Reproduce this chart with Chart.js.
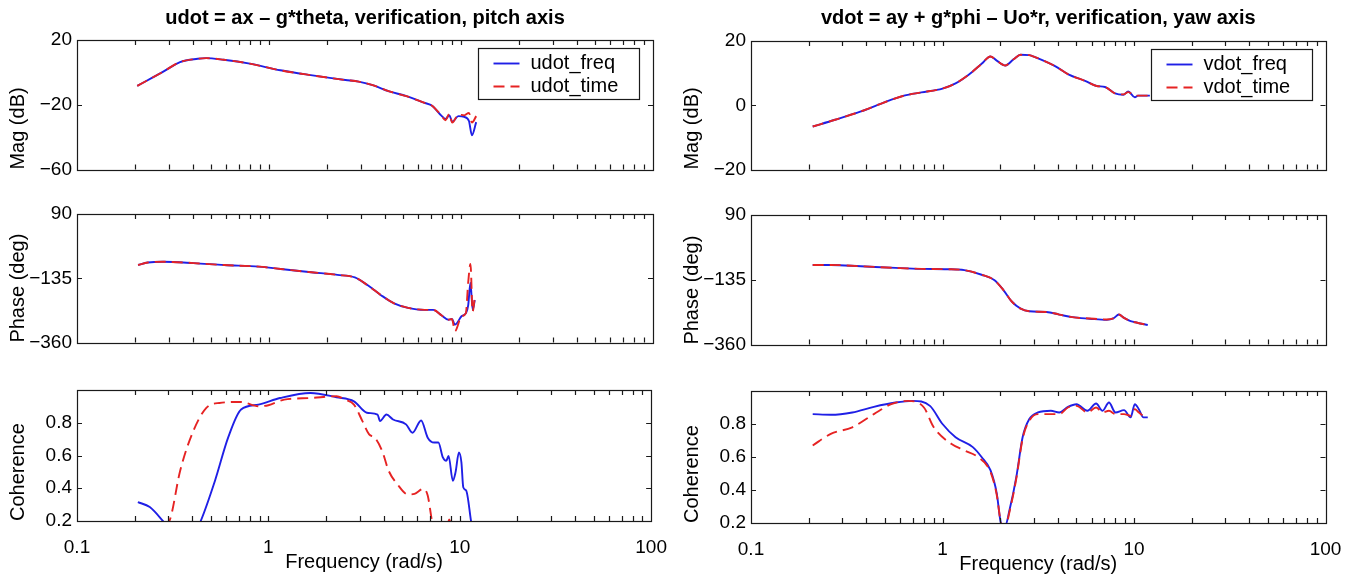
<!DOCTYPE html>
<html>
<head>
<meta charset="utf-8">
<title>udot / vdot verification</title>
<script src="https://cdn.jsdelivr.net/npm/chart.js@4.4.1/dist/chart.umd.min.js"></script>
<style>
  body { margin: 0; background: #fff; width: 1357px; height: 581px; overflow: hidden; position: relative; }
  canvas { position: absolute; }
</style>
</head>
<body>
<script>
// --- pitch axis (udot), magnitude ---
var freqMagU = [0.206, 0.28, 0.344, 0.425, 0.47, 0.58, 0.794, 1.146, 1.65, 2.5, 2.93, 3.43, 4.23, 5.2, 6.41, 7.1, 7.9, 8.3, 8.7, 9.0, 9.7, 10.4, 11.0, 11.4, 12.0];
var magUfreq = [-8.3, 0.3, 6.4, 8.4, 8.8, 7.8, 5.4, 1.3, -1.7, -4.7, -5.7, -7.7, -11.7, -14.7, -18.7, -20.7, -26.7, -28.7, -26.5, -30.5, -27, -27.5, -30, -38.8, -30.7];
var magUtime = [-8.3, 0.3, 6.4, 8.4, 8.8, 7.8, 5.4, 1.3, -1.7, -4.7, -5.7, -7.7, -11.7, -14.7, -18.7, -20.7, -26.7, -29.5, -25.5, -31, -26, -26.5, -25, -31, -27];

// --- yaw axis (vdot), magnitude ---
var freqMagV = [0.21, 0.275, 0.375, 0.486, 0.63, 0.776, 1.0, 1.17, 1.37, 1.6, 1.78, 1.92, 2.13, 2.36, 2.56, 2.84, 3.04, 3.87, 4.54, 5.55, 6.38, 7.06, 7.96, 8.8, 9.33, 10.1, 10.5, 12.1];
var magVfreq = [-6.6, -4.5, -1.9, 0.7, 3.0, 4.0, 5.2, 6.8, 9.5, 12.9, 15.2, 13.9, 12.4, 14.4, 15.7, 15.6, 15.0, 12.2, 9.6, 7.6, 6.0, 5.7, 3.7, 3.3, 4.3, 2.5, 3.0, 3.0];
var magVtime = [-6.6, -4.5, -1.9, 0.7, 3.0, 4.0, 5.2, 6.8, 9.5, 12.9, 15.2, 13.9, 12.4, 14.4, 15.7, 15.6, 15.0, 12.2, 9.6, 7.6, 6.0, 5.7, 3.7, 3.4, 4.1, 3.0, 3.0, 3.0];

// --- pitch axis, phase ---
var freqPhU = [0.208, 0.234, 0.281, 0.405, 0.584, 0.887, 1.15, 1.66, 2.27, 2.8, 3.27, 3.83, 4.48, 5.24, 6.45, 7.16, 7.94, 8.6, 8.97, 9.3, 10.06, 10.6, 10.9, 11.2, 11.5, 11.8];
var phUfreq = [-88.6, -79.5, -77.2, -81.8, -88.6, -94.3, -102.4, -113.8, -123, -132, -159.6, -194, -222.6, -237.5, -245.5, -245.5, -265, -279.8, -277.5, -297, -268, -257, -230, -150, -245, -211];
var phUtime = [-88.6, -79.5, -77.2, -81.8, -88.6, -94.3, -102.4, -113.8, -123, -132, -159.6, -194, -222.6, -237.5, -245.5, -245.5, -265, -279.8, -277.5, -320, -268, -257, -150, -85, -251, -200];

// --- yaw axis, phase ---
var freqPhV = [0.21, 0.261, 0.375, 0.568, 0.776, 1.06, 1.3, 1.6, 1.87, 2.08, 2.3, 2.56, 2.84, 3.49, 4.07, 4.76, 5.86, 7.21, 7.8, 8.34, 8.87, 9.6, 10.4, 11.8];
var phVfreq = [-83.4, -83.4, -88, -93.6, -97, -98.2, -101.6, -117.4, -136.7, -170.7, -210.4, -235.3, -244.4, -246.6, -255.7, -264.8, -270, -274, -269.3, -255.7, -267, -278.4, -284, -292];
var phVtime = [-83.4, -83.4, -88, -93.6, -97, -98.2, -101.6, -117.4, -136.7, -170.7, -210.4, -235.3, -244.4, -246.6, -255.7, -264.8, -269.3, -272.7, -269.3, -255.7, -267, -278.4, -284, -292];

// --- pitch axis, coherence ---
var freqCohUfreq = [0.208, 0.24, 0.281, 0.33, 0.4, 0.443, 0.526, 0.616, 0.72, 0.887, 1.15, 1.66, 2.27, 2.8, 3.27, 3.72, 3.83, 4.14, 4.48, 5.24, 5.66, 6.28, 6.8, 7.35, 7.73, 8.16, 8.5, 8.74, 9.2, 9.5, 9.9, 10.2, 10.43, 10.8, 11.45, 11.8];
var cohUfreq = [0.315, 0.285, 0.2, 0.1, 0.1, 0.2, 0.446, 0.709, 0.881, 0.911, 0.951, 0.982, 0.956, 0.931, 0.861, 0.85, 0.81, 0.85, 0.82, 0.79, 0.739, 0.814, 0.709, 0.679, 0.679, 0.588, 0.567, 0.598, 0.446, 0.497, 0.618, 0.558, 0.406, 0.386, 0.2, 0.1];
var freqCohUtime = [0.21, 0.304, 0.346, 0.405, 0.474, 0.555, 0.72, 0.887, 1.0, 1.21, 1.66, 2.27, 2.52, 2.8, 3.1, 3.36, 3.6, 3.93, 4.25, 4.71, 5.37, 5.8, 6.45, 6.8, 7.16, 7.5, 8.4, 8.8, 9.2];
var cohUtime = [0.05, 0.2, 0.507, 0.749, 0.891, 0.921, 0.927, 0.901, 0.907, 0.941, 0.951, 0.962, 0.941, 0.911, 0.81, 0.729, 0.709, 0.628, 0.507, 0.426, 0.362, 0.366, 0.396, 0.356, 0.2, 0.1, 0.1, 0.21, 0.1];

// --- yaw axis, coherence ---
var freqCohVfreq = [0.21, 0.261, 0.338, 0.438, 0.568, 0.699, 0.86, 1.0, 1.17, 1.44, 1.6, 1.78, 1.92, 2.02, 2.12, 2.24, 2.43, 2.62, 2.84, 3.15, 3.68, 4.07, 4.52, 5.01, 5.71, 6.34, 6.85, 7.4, 8.0, 8.87, 9.6, 10.1, 10.6, 11.2, 11.8];
var cohVfreq = [0.86, 0.856, 0.87, 0.904, 0.93, 0.94, 0.91, 0.8, 0.72, 0.66, 0.6, 0.52, 0.38, 0.2, 0.18, 0.28, 0.48, 0.72, 0.83, 0.87, 0.88, 0.87, 0.904, 0.92, 0.88, 0.924, 0.88, 0.93, 0.87, 0.884, 0.84, 0.92, 0.89, 0.84, 0.84];
var freqCohVtime = [0.21, 0.261, 0.338, 0.438, 0.54, 0.66, 0.8, 0.9, 1.11, 1.3, 1.53, 1.78, 1.92, 2.02, 2.12, 2.24, 2.43, 2.62, 2.84, 3.15, 3.68, 4.07, 4.52, 5.01, 5.71, 6.34, 6.85, 7.4, 8.0, 8.87, 9.6, 10.1, 10.6, 11.2, 11.8];
var cohVtime = [0.67, 0.74, 0.78, 0.86, 0.92, 0.94, 0.9, 0.78, 0.68, 0.64, 0.6, 0.51, 0.37, 0.2, 0.17, 0.27, 0.47, 0.71, 0.82, 0.86, 0.86, 0.86, 0.9, 0.91, 0.87, 0.9, 0.87, 0.88, 0.86, 0.86, 0.85, 0.89, 0.87, 0.85, 0.84];

// tick labels
var freqTicks = [0.1, 1, 10, 100];
var magUTicks = [-60, -20, 20];
var magVTicks = [-20, 0, 20];
var phaseTicks = [-360, -135, 90];
var cohTicks = [0.2, 0.4, 0.6, 0.8];

var BLUE = '#1f1fe6';
var RED = '#e62323';
var FONT = '"Liberation Sans", Arial, Helvetica, sans-serif';

Chart.defaults.font.family = FONT;
Chart.defaults.color = '#000';

// coppie x/y per il grafico
function punti(freq, valori) {
  var out = [];
  for (var i = 0; i < freq.length; i++) {
    out.push({x: freq[i], y: valori[i]});
  }
  return out;
}

function fmt(v) {
  return String(v).replace('-', '\u2212');
}

// box + inward ticks, matlab style
var boxTicks = {
  id: 'boxTicks',
  afterDraw: function(chart) {
    var ctx = chart.ctx, a = chart.chartArea;
    var xs = chart.scales.x, ys = chart.scales.y;
    var len = 5;
    ctx.save();
    ctx.strokeStyle = '#1a1a1a';
    ctx.lineWidth = 1.2;
    ctx.beginPath();
    for (var d = 0.1; d < 99; d *= 10) {
      for (var k = 1; k <= 9; k++) {
        var v = d * k;
        if (v <= 0.1 || v >= 100) continue;
        var px = Math.round(xs.getPixelForValue(v)) + 0.5;
        ctx.moveTo(px, a.top); ctx.lineTo(px, a.top + len);
        ctx.moveTo(px, a.bottom); ctx.lineTo(px, a.bottom - len);
      }
    }
    ys.ticks.forEach(function(t) {
      var py = Math.round(ys.getPixelForValue(t.value)) + 0.5;
      ctx.moveTo(a.left, py); ctx.lineTo(a.left + len, py);
      ctx.moveTo(a.right, py); ctx.lineTo(a.right - len, py);
    });
    ctx.stroke();
    ctx.strokeRect(Math.round(a.left) + 0.5, Math.round(a.top) + 0.5, Math.round(a.right - a.left), Math.round(a.bottom - a.top));
    ctx.restore();
  }
};

// legend box inside the axes (top right)
var insideLegend = {
  id: 'insideLegend',
  afterDraw: function(chart, args, opts) {
    if (!opts.show) return;
    var ctx = chart.ctx, a = chart.chartArea;
    var w = 161, h = 51;
    var x = Math.round(a.right - 14 - w) + 0.5, y = Math.round(a.top + 8) + 0.5;
    ctx.save();
    ctx.fillStyle = '#fff';
    ctx.fillRect(x, y, w, h);
    ctx.strokeStyle = '#1a1a1a';
    ctx.lineWidth = 1.2;
    ctx.strokeRect(x, y, w, h);
    ctx.font = '20px ' + FONT;
    ctx.textBaseline = 'middle';
    chart.data.datasets.forEach(function(ds, i) {
      var cy = y + 15 + i * 23;
      ctx.strokeStyle = ds.borderColor;
      ctx.lineWidth = ds.borderWidth;
      ctx.setLineDash(ds.borderDash || []);
      ctx.beginPath();
      ctx.moveTo(x + 15, cy);
      ctx.lineTo(x + 41, cy);
      ctx.stroke();
      ctx.setLineDash([]);
      ctx.fillStyle = '#000';
      ctx.fillText(ds.label, x + 52, cy);
    });
    ctx.restore();
  }
};

function serie(label, data, color, dashed) {
  return {
    label: label,
    data: data,
    borderColor: color,
    backgroundColor: color,
    borderWidth: 1.9,
    borderDash: dashed ? [11, 6] : [],
    pointRadius: 0,
    cubicInterpolationMode: 'monotone',
    order: dashed ? 0 : 1,
    fill: false
  };
}

function pannello(cfg) {
  var canvas = document.createElement('canvas');
  canvas.width = cfg.width;
  canvas.height = cfg.height;
  canvas.style.left = cfg.left + 'px';
  canvas.style.top = cfg.top + 'px';
  document.body.appendChild(canvas);

  new Chart(canvas, {
    type: 'line',
    data: { datasets: cfg.datasets },
    plugins: [boxTicks, insideLegend],
    options: {
      responsive: false,
      animation: false,
      devicePixelRatio: 1,
      layout: { padding: { top: cfg.padTop, right: cfg.padRight, bottom: 0, left: 0 } },
      plugins: {
        legend: { display: false },
        tooltip: { enabled: false },
        title: {
          display: !!cfg.title,
          text: cfg.title || '',
          fullSize: false,
          color: '#000',
          font: { size: 20, weight: 'bold' },
          padding: { top: 6, bottom: cfg.titlePadBottom || 10 }
        },
        insideLegend: { show: !!cfg.legend }
      },
      scales: {
        x: {
          type: 'logarithmic',
          min: 0.1,
          max: 100,
          grid: { display: false },
          border: { display: false },
          afterBuildTicks: function(s) {
            s.ticks = freqTicks.map(function(v) { return {value: v}; });
          },
          afterFit: function(s) { s.height = cfg.xHeight; },
          ticks: {
            display: !!cfg.xLabels,
            autoSkip: false,
            maxRotation: 0,
            padding: 7,
            font: { size: 19 },
            callback: function(v) { return fmt(v); }
          },
          title: {
            display: !!cfg.xLabels,
            text: 'Frequency (rad/s)',
            font: { size: 20 },
            padding: { top: 0, bottom: 5 }
          }
        },
        y: {
          min: cfg.yMin,
          max: cfg.yMax,
          grid: { display: false, drawTicks: false },
          border: { display: false },
          afterBuildTicks: function(s) {
            s.ticks = cfg.yTicks.map(function(v) { return {value: v}; });
          },
          afterFit: function(s) { s.width = 77; },
          ticks: {
            padding: 5,
            font: { size: 19 },
            callback: function(v) { return fmt(v); }
          },
          title: {
            display: true,
            text: cfg.yLabel,
            align: 'start',
            font: { size: 20 },
            padding: { top: 6, bottom: 0 }
          }
        }
      }
    }
  });
}

var LEFT = 0, RIGHT = 674;

// riga 1: magnitudine
pannello({
  left: LEFT, top: 0, width: 674, height: 186, padTop: 0, padRight: 21, titlePadBottom: 10,
  title: 'udot = ax \u2013 g*theta, verification, pitch axis', legend: true,
  xHeight: 14, xLabels: false, yMin: -60, yMax: 20, yTicks: magUTicks, yLabel: 'Mag (dB)',
  datasets: [serie('udot_freq', punti(freqMagU, magUfreq), BLUE, false), serie('udot_time', punti(freqMagU, magUtime), RED, true)]
});
pannello({
  left: RIGHT, top: 0, width: 683, height: 186, padTop: 0, padRight: 31.5, titlePadBottom: 11,
  title: 'vdot = ay + g*phi \u2013 Uo*r, verification, yaw axis', legend: true,
  xHeight: 14, xLabels: false, yMin: -20, yMax: 20, yTicks: magVTicks, yLabel: 'Mag (dB)',
  datasets: [serie('vdot_freq', punti(freqMagV, magVfreq), BLUE, false), serie('vdot_time', punti(freqMagV, magVtime), RED, true)]
});

// riga 2: fase
pannello({
  left: LEFT, top: 190, width: 674, height: 169, padTop: 24, padRight: 21,
  xHeight: 14, xLabels: false, yMin: -360, yMax: 90, yTicks: phaseTicks, yLabel: 'Phase (deg)',
  datasets: [serie('udot_freq', punti(freqPhU, phUfreq), BLUE, false), serie('udot_time', punti(freqPhU, phUtime), RED, true)]
});
pannello({
  left: RIGHT, top: 190, width: 683, height: 171, padTop: 25, padRight: 31.5,
  xHeight: 14, xLabels: false, yMin: -360, yMax: 90, yTicks: phaseTicks, yLabel: 'Phase (deg)',
  datasets: [serie('vdot_freq', punti(freqPhV, phVfreq), BLUE, false), serie('vdot_time', punti(freqPhV, phVtime), RED, true)]
});

// riga 3: coerenza
pannello({
  left: LEFT, top: 366, width: 674, height: 213, padTop: 24, padRight: 21,
  xHeight: 58, xLabels: true, yMin: 0.2, yMax: 1, yTicks: cohTicks, yLabel: 'Coherence',
  datasets: [serie('udot_freq', punti(freqCohUfreq, cohUfreq), BLUE, false), serie('udot_time', punti(freqCohUtime, cohUtime), RED, true)]
});
pannello({
  left: RIGHT, top: 366, width: 683, height: 215, padTop: 25, padRight: 31.5,
  xHeight: 58, xLabels: true, yMin: 0.2, yMax: 1, yTicks: cohTicks, yLabel: 'Coherence',
  datasets: [serie('vdot_freq', punti(freqCohVfreq, cohVfreq), BLUE, false), serie('vdot_time', punti(freqCohVtime, cohVtime), RED, true)]
});
</script>
</body>
</html>
